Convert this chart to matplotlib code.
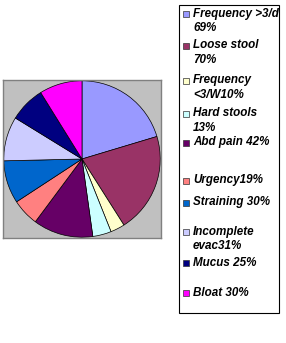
import matplotlib
matplotlib.use("Agg")
import matplotlib.pyplot as plt
from matplotlib.patches import Rectangle

labels = ["Frequency >3/d\n69%", "Loose stool\n70%", "Frequency\n<3/W10%", "Hard stools\n13%",
          "Abd pain 42%", "Urgency19%", "Straining 30%", "Incomplete\nevac31%", "Mucus 25%", "Bloat 30%"]
values = [69, 70, 10, 13, 42, 19, 30, 31, 25, 30]
colors = ["#9999FF", "#993366", "#FFFFCC", "#CCFFFF", "#660066", "#FF8080",
          "#0066CC", "#CCCCFF", "#000080", "#FF00FF"]
# legend entry positions (pixels from top, centre of first line)
entry_y = [14, 46, 81, 114, 143, 181, 203, 232, 263, 293]

W, H = 286, 343
fig = plt.figure(figsize=(W / 100, H / 100), dpi=100)
fig.patch.set_facecolor("white")

def fx(px):
    return px / W

def fy(py):
    return 1 - py / H

ax = fig.add_axes([fx(3), fy(238), 158 / W, 158 / H])
ax.pie(values, colors=colors, startangle=90, counterclock=False,
       wedgeprops=dict(edgecolor="black", linewidth=0.5), radius=1.0)
ax.set_frame_on(True)
ax.set_facecolor("#C0C0C0")
ax.set_xlim(-1.01, 1.01)
ax.set_ylim(-1.01, 1.01)
ax.set_aspect("auto")
ax.set_xticks([])
ax.set_yticks([])
for s in ax.spines.values():
    s.set_visible(True)
    s.set_color("#808080")
    s.set_linewidth(1.0)

# legend box
fig.patches.append(Rectangle((fx(179), fy(313)), 100 / W, 308 / H, transform=fig.transFigure,
                             facecolor="white", edgecolor="black", linewidth=0.8))
for lab, col, y in zip(labels, colors, entry_y):
    fig.patches.append(Rectangle((fx(183), fy(y + 3)), 6 / W, 6 / H, transform=fig.transFigure,
                                 facecolor=col, edgecolor="#333333", linewidth=0.5))
    fig.text(fx(193), fy(y - 6.5), lab, ha="left", va="top", fontsize=8.4,
             family="Liberation Sans", fontweight="bold", fontstyle="italic",
             linespacing=1.3)

fig.savefig("out.png", dpi=100)
